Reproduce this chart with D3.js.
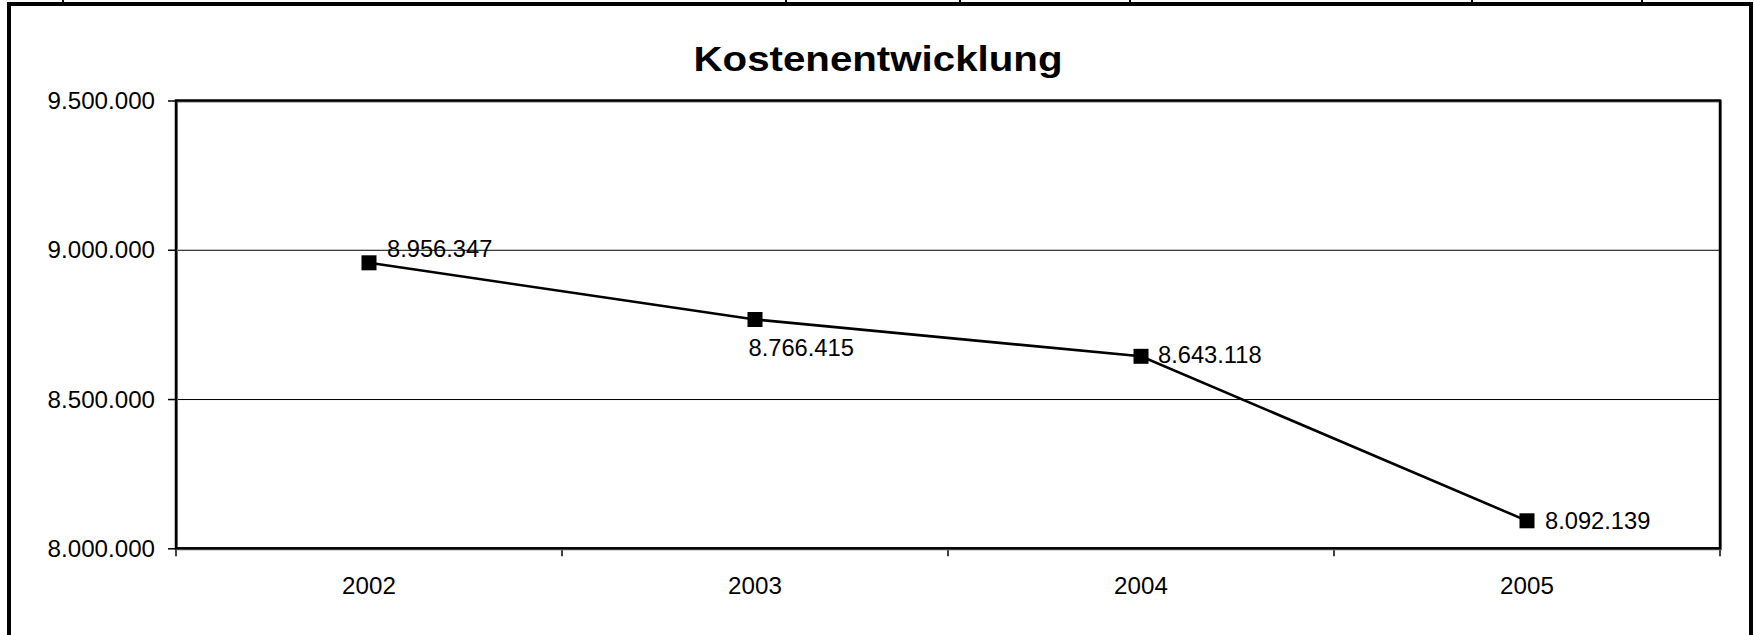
<!DOCTYPE html>
<html>
<head>
<meta charset="utf-8">
<script src="https://d3js.org/d3.v7.min.js"></script>
<style>
  body { margin: 0; background: #fff; }
  text { font-family: "Liberation Sans", Arial, sans-serif; fill: #000; }
</style>
</head>
<body>
<div id="chart_div"></div>
<script>

// data
var years = ["2002", "2003", "2004", "2005"];
var costs = [8956347, 8766415, 8643118, 8092139];
var yTicks = [8000000, 8500000, 9000000, 9500000];
var chartTitle = "Kostenentwicklung";

// label placement relative to each point (excel style, set by hand)
var labelOffsets = [[18, -6], [-6.5, 37], [17, 7], [18, 8]];

// spreadsheet cell borders peeking out above the chart frame
var cellEdges = [63, 786, 960, 1130, 1472, 1642];

// german number format 8.956.347
var de = d3.formatLocale({decimal: ",", thousands: ".", grouping: [3], currency: ["", " €"]});
var fmt = de.format(",.0f");

var W = 1754, H = 635;
var margin = {top: 100.5, right: 34, bottom: 86.7, left: 176};
var width = W - margin.left - margin.right,
    height = H - margin.top - margin.bottom;

var svg = d3.select("#chart_div")
  .append("svg")
  .attr("width", W)
  .attr("height", H);

// stretch text horizontally like the original render
function stretch(sel, k) {
  sel.each(function() {
    var w = this.getComputedTextLength();
    d3.select(this).attr("textLength", w * k).attr("lengthAdjust", "spacingAndGlyphs");
  });
}

// outer frame + cell borders
svg.selectAll("cellEdge")
  .data(cellEdges)
  .enter()
  .append("line")
    .attr("x1", function(d) { return d; })
    .attr("x2", function(d) { return d; })
    .attr("y1", 0)
    .attr("y2", 4)
    .attr("stroke", "#000")
    .attr("stroke-width", 2);

svg.append("rect")
  .attr("x", 9)
  .attr("y", 4)
  .attr("width", 1742)
  .attr("height", 700)
  .attr("fill", "none")
  .attr("stroke", "#000")
  .attr("stroke-width", 4);

// title
svg.append("text")
  .attr("x", 878)
  .attr("y", 71)
  .attr("text-anchor", "middle")
  .style("font-size", "35px")
  .style("font-weight", "bold")
  .text(chartTitle)
  .call(stretch, 1.15);

var g = svg.append("g")
  .attr("transform", "translate(" + margin.left + "," + margin.top + ")");

// scales
var x = d3.scaleBand()
  .domain(years)
  .range([0, width])
  .padding(0);

var y = d3.scaleLinear()
  .domain([8000000, 9500000])
  .range([height, 0]);

// gridlines
g.append("g")
  .call(d3.axisLeft(y).tickValues(yTicks.slice(1, 3)).tickSize(-width).tickFormat(""))
  .call(function(s) {
    s.select(".domain").remove();
    s.selectAll("line").attr("stroke", "#000").attr("stroke-width", 1);
  });

// Y axis
g.append("g")
  .call(d3.axisLeft(y).tickValues(yTicks).tickSize(8).tickPadding(13).tickFormat(fmt))
  .call(function(s) {
    s.select(".domain").remove();
    s.selectAll("line").attr("stroke", "#000").attr("stroke-width", 1.5);
    s.selectAll("text")
      .attr("dy", "0.35em")
      .style("font-size", "23px")
      .style("font-family", "'Liberation Sans', Arial, sans-serif")
      .call(stretch, 1.05);
  });

// X axis: ticks sit between categories
var edges = years.map(function(d) { return x(d); }).concat([width]);
g.selectAll("xTick")
  .data(edges)
  .enter()
  .append("line")
    .attr("x1", function(d) { return d; })
    .attr("x2", function(d) { return d; })
    .attr("y1", height)
    .attr("y2", height + 8)
    .attr("stroke", "#000")
    .attr("stroke-width", 1.5);

g.selectAll("xLabel")
  .data(years)
  .enter()
  .append("text")
    .attr("x", function(d) { return x(d) + x.bandwidth() / 2; })
    .attr("y", height + 46)
    .attr("text-anchor", "middle")
    .style("font-size", "23px")
    .text(function(d) { return d; })
    .call(stretch, 1.05);

// plot area border, with the faint grey edge of the original
g.append("rect")
  .attr("x", 0.8)
  .attr("y", 0.8)
  .attr("width", width)
  .attr("height", height)
  .attr("fill", "none")
  .attr("stroke", "#888")
  .attr("stroke-width", 2.5);

g.append("rect")
  .attr("x", 0)
  .attr("y", 0)
  .attr("width", width)
  .attr("height", height)
  .attr("fill", "none")
  .attr("stroke", "#000")
  .attr("stroke-width", 2.5);

var cx = function(i) { return x(years[i]) + x.bandwidth() / 2; };

// line
var line = d3.line()
  .x(function(d, i) { return cx(i); })
  .y(function(d) { return y(d); });

g.append("path")
  .datum(costs)
  .attr("fill", "none")
  .attr("stroke", "#000")
  .attr("stroke-width", 2.6)
  .attr("d", line);

// markers
var ms = 15;
g.selectAll("marker")
  .data(costs)
  .enter()
  .append("rect")
    .attr("x", function(d, i) { return cx(i) - ms / 2; })
    .attr("y", function(d) { return y(d) - ms / 2; })
    .attr("width", ms)
    .attr("height", ms)
    .attr("fill", "#000");

// data labels
g.selectAll("dataLabel")
  .data(costs)
  .enter()
  .append("text")
    .attr("x", function(d, i) { return cx(i) + labelOffsets[i][0]; })
    .attr("y", function(d, i) { return y(d) + labelOffsets[i][1]; })
    .style("font-size", "23px")
    .text(function(d) { return fmt(d); })
    .call(stretch, 1.03);

</script>
</body>
</html>
